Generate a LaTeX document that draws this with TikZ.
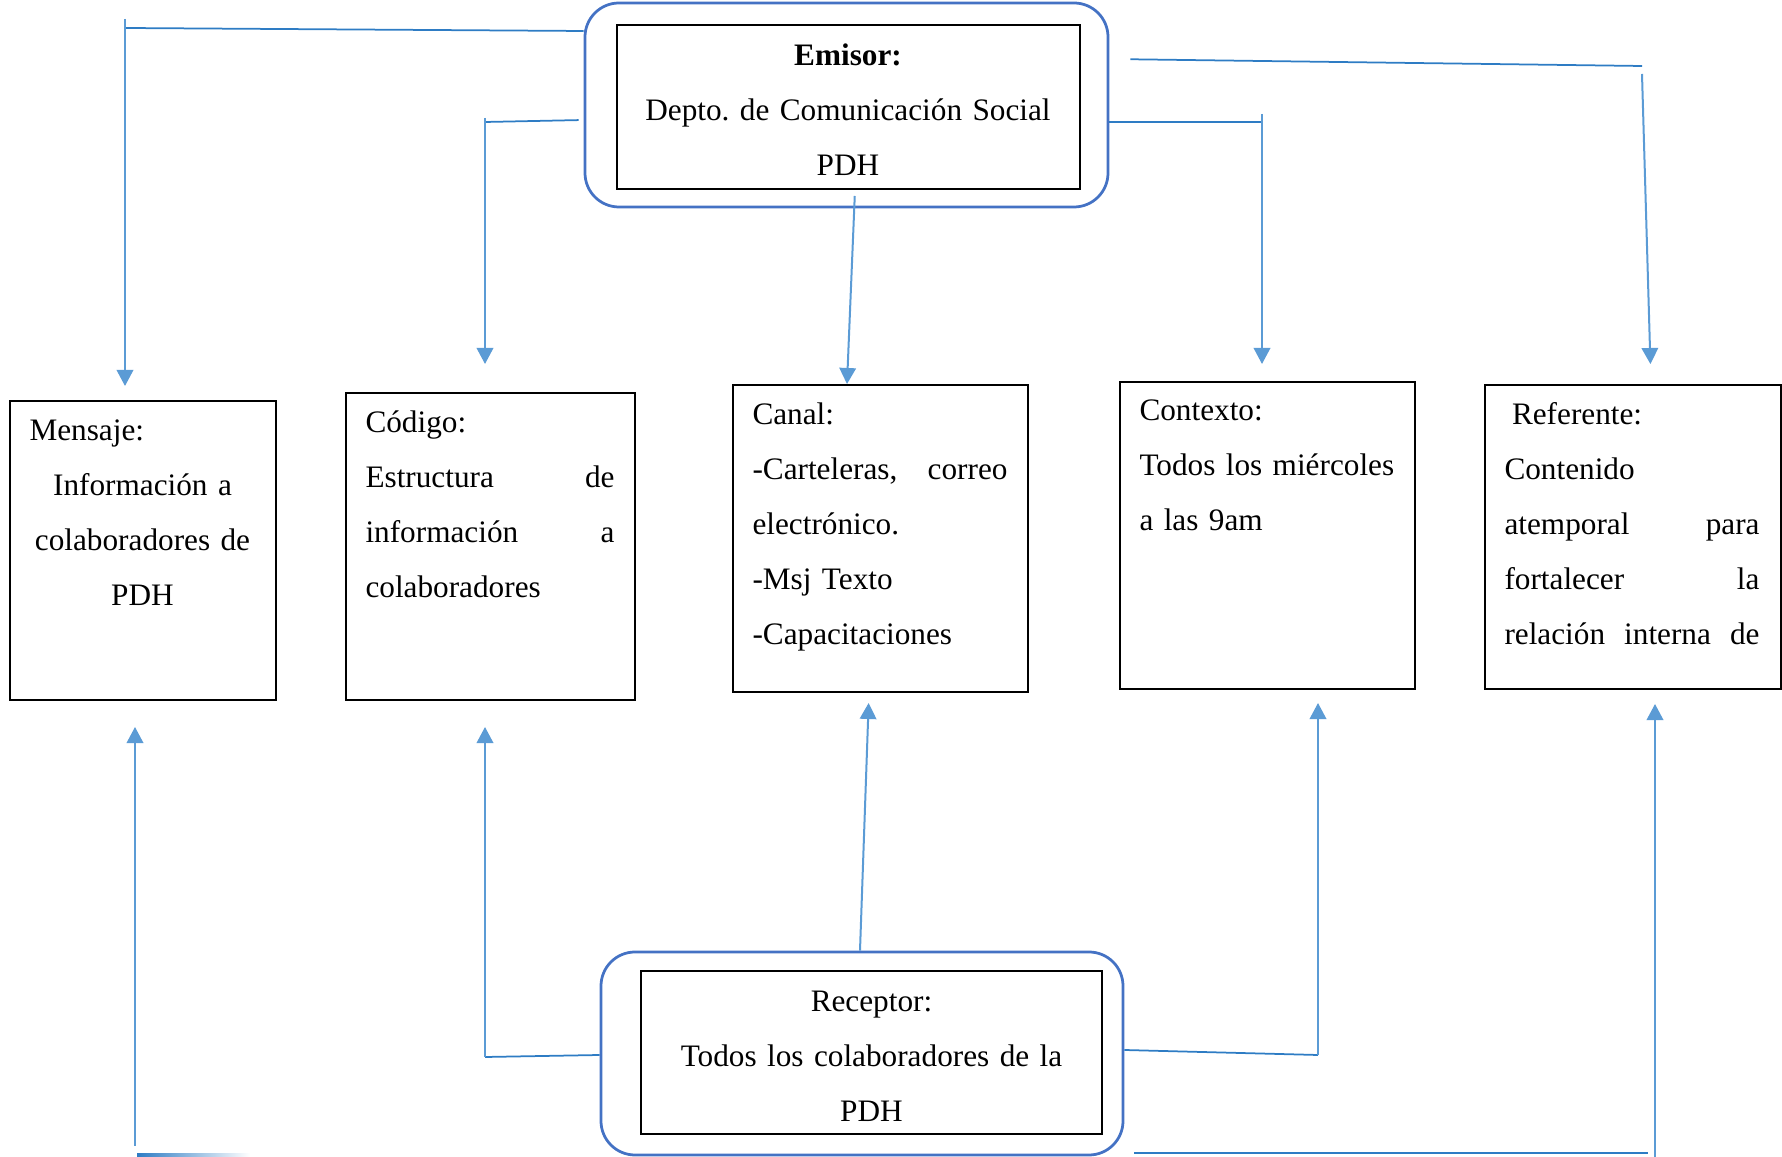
\documentclass[tikz,border=0pt]{standalone}
\usepackage{fontspec}
\setmainfont{Liberation Serif}
\usepackage{tikz}
\usetikzlibrary{positioning,arrows.meta}
\definecolor{linkc}{HTML}{5B9BD5}
\definecolor{hlinkc}{HTML}{2E7CC4}
\definecolor{framec}{HTML}{4472C4}
\frenchspacing

\begin{document}
\begin{tikzpicture}[x=0.4pt, y=-0.4pt,
    font=\fontsize{12.5}{22}\selectfont,
    blk/.style={draw=black, line width=0.8pt, inner sep=0pt},
    rnd/.style={draw=framec, line width=1.1pt, rounded corners=13.6pt, inner sep=0pt},
    txt/.style={inner sep=0pt, align=left},
    conn/.style={draw=linkc, line width=0.8pt},
    hconn/.style={draw=hlinkc, line width=0.7pt},
    flecha/.style={-{Triangle[width=6.6pt,length=6.4pt]}}]
  \useasboundingbox (0,0) rectangle (1782,1157);

  % emisor y receptor
  \node[rnd, minimum width=209.2pt, minimum height=81.6pt] (emisorbox) at (846.5,105) {};
  \node[blk, minimum width=185.2pt, minimum height=65.6pt, text width=180pt, align=center] (emisor) at (848,107)
    {\rule{0pt}{11.1pt}\textbf{Emisor:}\\ Depto. de Comunicación Social\\ PDH};
  \node[rnd, minimum width=208.8pt, minimum height=81.2pt] (receptorbox) at (862,1053.5) {};
  \node[blk, minimum width=184.4pt, minimum height=65.2pt, text width=180pt, align=center] (receptor) at (871.5,1052.5)
    {\rule{0pt}{11.1pt}Receptor:\\ Todos los colaboradores de la\\ PDH};

  % cajas del medio
  \node[blk, minimum width=106.4pt, minimum height=119.6pt, anchor=north west] (mensaje) at (9,400) {};
  \node[blk, minimum width=115.6pt, minimum height=122.8pt, anchor=north west] (codigo) at (345,392) {};
  \node[blk, minimum width=118pt, minimum height=122.8pt, anchor=north west] (canal) at (732,384) {};
  \node[blk, minimum width=118pt, minimum height=122.8pt, anchor=north west] (contexto) at (1119,381) {};
  \node[blk, minimum width=118.4pt, minimum height=121.6pt, anchor=north west] (referente) at (1484,384) {};

  \node[txt, text width=90.4pt, align=center, below right=7.6pt and 8pt of mensaje.north west] (mensajetxt)
    {Mensaje:\hfill\null\\ Información a\\ colaboradores de\\ PDH};
  \node[txt, text width=99.6pt, below right=7.4pt and 8pt of codigo.north west] (codigotxt)
    {Código:\\ Estructura\hfill de\\ información\hfill a\\ colaboradores};
  \node[txt, text width=102pt, below right=7.4pt and 8pt of canal.north west] (canaltxt)
    {Canal:\\ -Carteleras,\hfill correo\\ electrónico.\\ -Msj Texto\\ -Capacitaciones};
  \node[txt, text width=106pt, below right=7.4pt and 8pt of contexto.north west] (contextotxt)
    {Contexto:\\ Todos los miércoles\\ a las 9am};
  \node[txt, text width=102pt, below right=7.4pt and 8pt of referente.north west] (referentetxt)
    {\hspace{3pt}Referente:\\ Contenido\\ atemporal\hfill para\\ fortalecer\hfill la\\ relación\hfill interna\hfill de};

  % del emisor hacia abajo
  \coordinate (m1) at (125,28);
  \coordinate (m2) at (125,19);
  \draw[hconn] (emisorbox.west |- 0,31) -- (m1);
  \draw[conn, flecha, shorten >=5.6pt] (m2) -- (m2 |- mensaje.north);

  \coordinate (c1) at (485,122);
  \coordinate (c2) at (485,118);
  \draw[hconn, shorten <=2pt] (emisorbox.west |- 0,120) -- (c1);
  \draw[conn, flecha, shorten >=11.2pt] (c2) -- (c2 |- codigo.north);

  \coordinate (k0) at (855,195);
  \coordinate (k1) at (847,384);
  \draw[conn, flecha, shorten <=2.4pt] (emisor.south -| k0) -- (k1 |- canal.north);

  \coordinate (t1) at (1262,122);
  \coordinate (t2) at (1262,114);
  \draw[hconn] (emisorbox.east |- t1) -- (t1);
  \draw[conn, flecha, shorten >=6.8pt] (t2) -- (t2 |- contexto.north);

  \coordinate (r1) at (1642,66);
  \coordinate (r2) at (1642,74);
  \coordinate (r3) at (1651,384);
  \draw[hconn, shorten <=8.4pt] (emisorbox.east |- 0,59) -- (r1);
  \draw[conn, flecha, shorten >=8pt] (r2) -- (r3 |- referente.north);

  % del receptor hacia arriba
  \coordinate (b1) at (135,1146);
  \draw[conn, flecha, shorten >=10.4pt] (b1) -- (b1 |- mensaje.south);
  \shade[left color=hlinkc, right color=white] (137,1153.8) rectangle (250,1156.2);

  \coordinate (g1) at (485,1057);
  \draw[hconn] (receptorbox.west |- 0,1055) -- (g1);
  \draw[conn, flecha, shorten >=10.4pt] (g1) -- (g1 |- codigo.south);

  \coordinate (h1) at (860,1000);
  \coordinate (h2) at (869,700);
  \draw[conn, flecha, shorten >=4pt] (receptorbox.north -| h1) -- (h2 |- canal.south);

  \coordinate (i1) at (1318,1055);
  \draw[hconn] (receptorbox.east |- 0,1050) -- (i1);
  \draw[conn, flecha, shorten >=5.2pt] (i1) -- (i1 |- contexto.south);

  \coordinate (j1) at (1648,1153);
  \coordinate (j2) at (1655,1157);
  \draw[hconn, shorten <=4pt] (receptorbox.east |- j1) -- (j1);
  \draw[conn, flecha, shorten >=5.6pt] (j2) -- (j2 |- referente.south);
\end{tikzpicture}
\end{document}
